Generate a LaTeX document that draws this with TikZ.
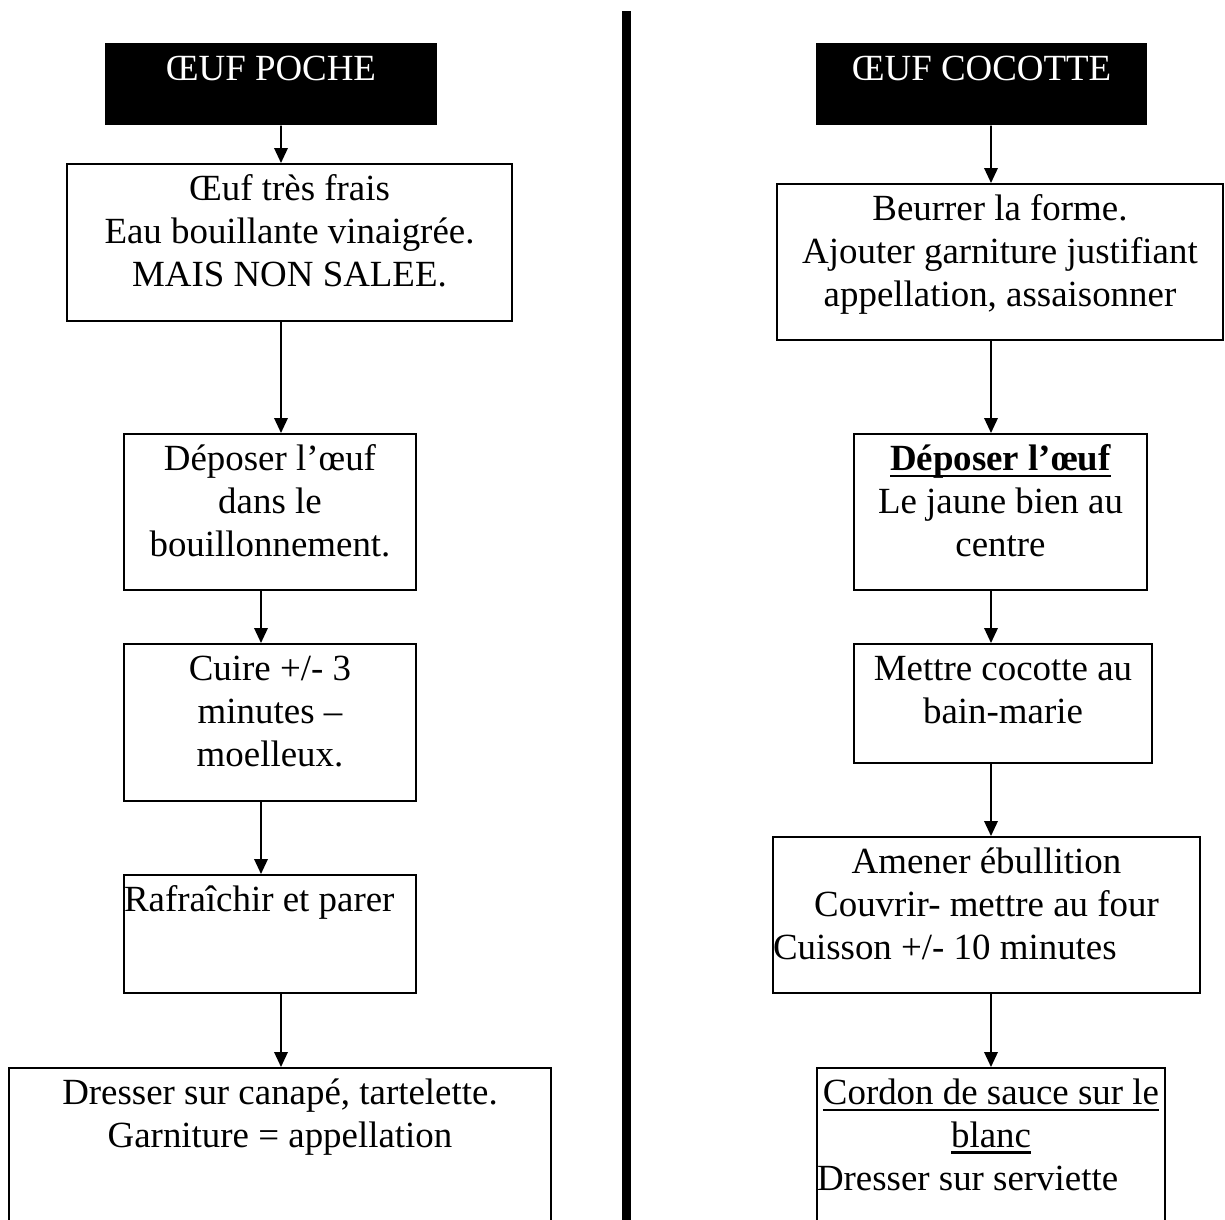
\documentclass[tikz,border=0pt]{standalone}
\usepackage{fontspec}
\setmainfont{Liberation Serif}
\usetikzlibrary{arrows.meta}
\newcommand{\souligne}[1]{\leavevmode\setbox0\hbox{#1}\rlap{\rule[-3.5pt]{\wd0}{1.3pt}}\box0}
\tikzstyle{arrow} = [-{Triangle[length=3mm,width=2.7mm]}, line width=1.1pt]
\tikzstyle{etape} = [draw, line width=1.1pt, anchor=north, inner xsep=0pt, inner ysep=4pt, text height=17pt, align=flush center]
\tikzstyle{titre} = [fill=black, text=white, anchor=north, inner xsep=0pt, inner ysep=4pt, text height=17pt, align=flush center]

\begin{document}
\begin{tikzpicture}[font=\fontsize{21}{24.3}\selectfont]
    \useasboundingbox (0,0) rectangle (24.5,-24.38);
    % oeuf poche
    \node[titre, text width=6.64cm, text depth=21.66pt] (poche) at (5.42,-0.86) {ŒUF POCHE};
    \node[etape, text width=8.9cm, text depth=64.34pt] (p1) at (5.79,-3.26) {Œuf très frais\\Eau bouillante vinaigrée.\\MAIS NON SALEE.};
    \node[etape, text width=5.84cm, text depth=63.77pt] (p2) at (5.40,-8.66) {Déposer l’œuf\\dans le\\bouillonnement.};
    \node[etape, text width=5.84cm, text depth=64.34pt] (p3) at (5.40,-12.86) {Cuire +/- 3\\minutes –\\moelleux.};
    \node[etape, text width=5.84cm, text depth=42.15pt, align=flush left] (p4) at (5.40,-17.48) {Rafraîchir et parer};
    \node[etape, text width=10.84cm, text depth=88.8pt] (p5) at (5.60,-21.34) {Dresser sur canapé, tartelette.\\Garniture = appellation};
    \draw[arrow] ([xshift=2mm]poche.south) -- ([xshift=-1.7mm]p1.north);
    \draw[arrow] ([xshift=-1.7mm]p1.south) -- ([xshift=2.2mm]p2.north);
    \draw[arrow] ([xshift=-1.8mm]p2.south) -- ([xshift=-1.8mm]p3.north);
    \draw[arrow] ([xshift=-1.8mm]p3.south) -- ([xshift=-1.8mm]p4.north);
    \draw[arrow] ([xshift=2.2mm]p4.south) -- ([xshift=0.2mm]p5.north);

    % separation
    \draw[line width=1.8mm] (12.53,-0.22) -- (12.53,-24.6);

    % oeuf cocotte
    \node[titre, text width=6.62cm, text depth=21.66pt] (cocotte) at (19.63,-0.86) {ŒUF COCOTTE};
    \node[etape, text width=8.92cm, text depth=63.77pt] (c1) at (20.0,-3.66) {Beurrer la forme.\\Ajouter garniture justifiant\\appellation, assaisonner};
    \node[etape, text width=5.86cm, text depth=63.77pt] (c2) at (20.01,-8.66) {\souligne{\textbf{Déposer l’œuf}}\\Le jaune bien au\\centre};
    \node[etape, text width=5.96cm, text depth=42.72pt] (c3) at (20.06,-12.86) {Mettre cocotte au\\bain-marie};
    \node[etape, text width=8.54cm, text depth=63.77pt] (c4) at (19.73,-16.72) {Amener ébullition\\Couvrir- mettre au four\\Cuisson +/- 10 minutes\hfill\null};
    \node[etape, text width=6.96cm, text depth=88.8pt] (c5) at (19.82,-21.34) {\souligne{Cordon de sauce sur le}\\\souligne{blanc}\\Dresser sur serviette\hfill\null};
    \draw[arrow] ([xshift=1.9mm]cocotte.south) -- ([xshift=-1.8mm]c1.north);
    \draw[arrow] ([xshift=-1.8mm]c1.south) -- ([xshift=-1.9mm]c2.north);
    \draw[arrow] ([xshift=-1.9mm]c2.south) -- ([xshift=-2.4mm]c3.north);
    \draw[arrow] ([xshift=-2.4mm]c3.south) -- ([xshift=0.9mm]c4.north);
    \draw[arrow] ([xshift=0.9mm]c4.south) -- (c5.north);
\end{tikzpicture}
\end{document}
